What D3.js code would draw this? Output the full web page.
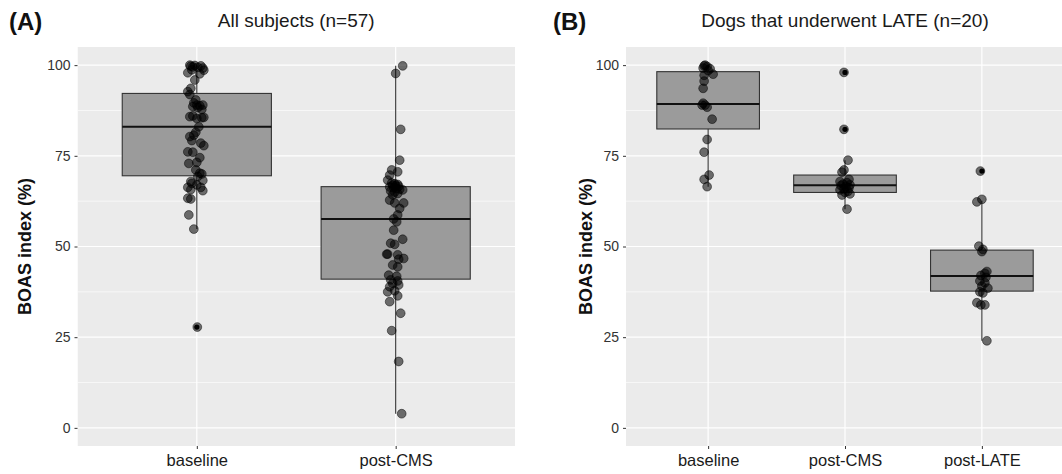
<!DOCTYPE html>
<html>
<head>
<meta charset="utf-8">
<script src="https://cdn.jsdelivr.net/npm/d3@7"></script>
<style>
  body { margin: 0; background: #fff; }
  svg { font-family: "Liberation Sans", Arial, sans-serif; }
</style>
</head>
<body>
<div id="chart"></div>
<script>
// ---- data ----
const yTicks = [0, 25, 50, 75, 100];
const yMinor = [12.5, 37.5, 62.5, 87.5];

const catsA = ["baseline", "post-CMS"];
const catsB = ["baseline", "post-CMS", "post-LATE"];

// box stats: [lowWhisker, q1, median, q3, highWhisker]
const boxA = [
  [54.8, 69.5, 83.0, 92.2, 100],
  [3.9, 41.0, 57.6, 66.5, 99.8]
];
const boxB = [
  [66.5, 82.4, 89.3, 98.2, 100],
  [60.3, 64.9, 66.9, 69.7, 73.8],
  [24.0, 37.7, 41.9, 49.0, 62.6]
];
const outA = [[27.8], []];
const outB = [[], [98.0, 82.3], [70.8]];

// jittered points: value and horizontal jitter (px offset)
const valsA_base = [99.7, 99.5, 99.8, 99.2, 98.7, 98.6, 97.9, 97.6, 99.9, 99.4, 100,
  95.9, 93.6, 92.7, 91.9, 90.4, 89.0, 88.6, 88.8, 89.0, 88.3, 89.6, 87.8,
  85.8, 86.0, 85.5, 85.6, 85.3, 83.0,
  81.5, 80.3, 80.7, 79.2, 78.5, 77.8, 76.1, 76.0, 74.5, 72.9, 73.2, 71.1, 70.2, 70.0,
  69.3, 68.2, 67.9, 67.4, 67.0, 66.3, 66.3, 65.7, 65.4, 63.3, 63.1, 58.7, 54.8, 27.8];
const jitA_base = [-6, -4, 4, 6, -5, 7, -9, 3, -2, 1, -7,
  -2, -6, -9, -7, -1, 0, -4, 3, 6, 1, -3, 5,
  -7, -4, 5, 7, 0, 2,
  -1, -7, -3, -5, 4, 7, -9, -4, 3, -8, 0, -1, 3, 5,
  1, 6, -6, -5, 0, -9, 4, -6, 6, -9, -6, -8, -3, 0.5];

const valsA_cms = [99.8, 97.7, 82.3, 73.8, 71.1, 70.6, 69.7, 68.3,
  67.5, 67.3, 67.1, 66.9, 66.8, 66.6, 66.4, 66.2, 66.0, 65.8, 65.6, 65.3, 65.0, 64.6,
  64.2, 62.8, 62.0, 62.0, 60.5, 58.7, 57.6,
  56.8, 54.5, 52.0, 50.9, 50.6, 47.9, 47.9, 47.7, 46.7, 46.5, 44.9, 44.4, 42.1, 41.8,
  40.8, 40.5, 39.8, 39.4, 38.9, 37.8, 37.5, 36.4, 34.8, 31.6, 26.8, 18.3, 3.9];
const jitA_cms = [7, 0, 5, 4, -4, 2, -6, -8,
  -4, -1, 2, -3, 0, 3, -6, -2, 1, 4, 7, -5, -1, 2,
  -3, -6, 8, -1, 4, 2, -2,
  1, -2, 7, -5, -1, -8, -9, 2, 8, 3, -3, 2, -7, 1,
  -5, 2, -3, 3, -6, -1, -8, 2, -6, 5, -4, 3, 6];

const valsB_base = [100, 99.6, 99.2, 99.0, 99.8, 98.5, 97.5, 97.2, 95.6, 93.6,
  89.5, 89.0, 89.0, 88.4, 85.1, 79.5, 76.0, 69.7, 68.5, 66.5];
const jitB_base = [-3, -1, -5, 2, -4, 0, 5, -4, -4, -5,
  -5, -6, -3, -1, 4, -1, -4, 1, -4, -1];

const valsB_cms = [98.0, 82.3, 73.8, 71.1, 70.5, 68.5,
  67.9, 67.6, 67.2, 67.0, 66.8, 66.5, 66.2, 65.9, 65.6, 65.2, 64.9, 64.5, 64.2, 60.3];
const jitB_cms = [-1, -1, 3, -1, -3, 4,
  -5, 2, -2, 5, -4, 1, 4, -1, -5, 3, 0, 5, -3, 2];

const valsB_late = [70.8, 63.0, 62.3, 50.1, 49.2, 48.6, 43.1, 42.6, 42.0, 41.5,
  40.5, 40.0, 39.1, 38.5, 37.5, 37.2, 34.5, 33.9, 33.9, 24.0];
const jitB_late = [-1.5, 0, -5, -3, 1, 0, 5, 3, -1, 4,
  -2, 3, 0, 6, -2, 1, -5, -1, 3, 5];

const ptsA = [[valsA_base, jitA_base], [valsA_cms, jitA_cms]];
const ptsB = [[valsB_base, jitB_base], [valsB_cms, jitB_cms], [valsB_late, jitB_late]];

class BoxPanel {
  constructor(svg, opts) {
    this.svg = svg;
    Object.assign(this, opts);
    this.draw();
  }

  draw() {
    this.x = d3.scalePoint().domain(this.cats).range([this.left, this.right]).padding(0.6);
    this.y = d3.scaleLinear().domain([-5, 105]).range([this.bottom, this.top]);
    const bw = this.x.step() * 0.75;

    const clipId = "clip" + this.id;
    this.svg.append("clipPath").attr("id", clipId)
      .append("rect")
        .attr("x", this.left).attr("y", this.top)
        .attr("width", this.right - this.left).attr("height", this.bottom - this.top);

    const g = this.svg.append("g").attr("clip-path", "url(#" + clipId + ")");

    g.append("rect")
      .attr("x", this.left).attr("y", this.top)
      .attr("width", this.right - this.left).attr("height", this.bottom - this.top)
      .attr("fill", "#ebebeb");

    // grid
    g.selectAll(".minor").data(yMinor).enter().append("line")
      .attr("x1", this.left).attr("x2", this.right)
      .attr("y1", d => this.y(d)).attr("y2", d => this.y(d))
      .attr("stroke", "#fff").attr("stroke-width", 0.6);
    g.selectAll(".major").data(yTicks).enter().append("line")
      .attr("x1", this.left).attr("x2", this.right)
      .attr("y1", d => this.y(d)).attr("y2", d => this.y(d))
      .attr("stroke", "#fff").attr("stroke-width", 1.2);
    g.selectAll(".vmajor").data(this.cats).enter().append("line")
      .attr("x1", d => this.x(d)).attr("x2", d => this.x(d))
      .attr("y1", this.top).attr("y2", this.bottom)
      .attr("stroke", "#fff").attr("stroke-width", 1.2);

    // boxes
    const boxes = g.selectAll(".box").data(this.box).enter().append("g");
    boxes.append("line")
      .attr("x1", (d, i) => this.x(this.cats[i])).attr("x2", (d, i) => this.x(this.cats[i]))
      .attr("y1", d => this.y(d[0])).attr("y2", d => this.y(d[4]))
      .attr("stroke", "#333").attr("stroke-width", 1.1);
    boxes.append("rect")
      .attr("x", (d, i) => this.x(this.cats[i]) - bw / 2)
      .attr("y", d => this.y(d[3]))
      .attr("width", bw)
      .attr("height", d => this.y(d[1]) - this.y(d[3]))
      .attr("fill", "#9b9b9b").attr("stroke", "#333").attr("stroke-width", 1.1);
    boxes.append("line")
      .attr("x1", (d, i) => this.x(this.cats[i]) - bw / 2)
      .attr("x2", (d, i) => this.x(this.cats[i]) + bw / 2)
      .attr("y1", d => this.y(d[2])).attr("y2", d => this.y(d[2]))
      .attr("stroke", "#111").attr("stroke-width", 2);

    // outliers (mostly hidden under the jittered points)
    this.out.forEach((vals, i) => {
      g.selectAll(null).data(vals).enter().append("circle")
        .attr("cx", this.x(this.cats[i]))
        .attr("cy", d => this.y(d))
        .attr("r", 2.6).attr("fill", "#000");
    });

    // jitter points
    this.pts.forEach((p, i) => {
      const vals = p[0], jit = p[1];
      g.selectAll(null).data(vals).enter().append("circle")
        .attr("cx", (d, j) => this.x(this.cats[i]) + jit[j])
        .attr("cy", d => this.y(d))
        .attr("r", 4.4)
        .attr("fill", "#000").attr("fill-opacity", 0.55)
        .attr("stroke", "#000").attr("stroke-opacity", 0.6).attr("stroke-width", 0.8);
    });

    this.createAxes();
  }

  createAxes() {
    const yAxis = d3.axisLeft(this.y).tickValues(yTicks).tickSize(3).tickPadding(4);
    const ya = this.svg.append("g")
      .attr("transform", "translate(" + this.left + ",0)")
      .call(yAxis);
    ya.select(".domain").remove();
    ya.selectAll("line").attr("stroke", "#333");
    ya.selectAll("text").attr("fill", "#333").style("font-size", "14px");

    const xAxis = d3.axisBottom(this.x).tickSize(3).tickPadding(5);
    const xa = this.svg.append("g")
      .attr("transform", "translate(0," + this.bottom + ")")
      .call(xAxis);
    xa.select(".domain").remove();
    xa.selectAll("line").attr("stroke", "#333");
    xa.selectAll("text").attr("fill", "#1a1a1a").style("font-size", "16.5px");

    this.svg.append("text")
      .attr("transform", "translate(" + this.labelX + "," + ((this.top + this.bottom) / 2) + ") rotate(-90)")
      .attr("text-anchor", "middle")
      .style("font-size", "18px").style("font-weight", "bold")
      .attr("fill", "#111")
      .text("BOAS index (%)");

    this.svg.append("text")
      .attr("x", (this.left + this.right) / 2).attr("y", 27)
      .attr("text-anchor", "middle")
      .style("font-size", "19px").attr("fill", "#1a1a1a")
      .text(this.title);

    this.svg.append("text")
      .attr("x", this.tagX).attr("y", 30)
      .style("font-size", "24px").style("font-weight", "bold")
      .attr("fill", "#111")
      .text(this.tag);
  }
}

const svg = d3.select("#chart").append("svg")
  .attr("width", 1062).attr("height", 474);

new BoxPanel(svg, {
  id: "A", cats: catsA, box: boxA, out: outA, pts: ptsA,
  left: 77.5, right: 515, top: 47, bottom: 446,
  labelX: 31, tagX: 9, tag: "(A)", title: "All subjects (n=57)"
});
new BoxPanel(svg, {
  id: "B", cats: catsB, box: boxB, out: outB, pts: ptsB,
  left: 626, right: 1064, top: 47, bottom: 446,
  labelX: 592, tagX: 553, tag: "(B)", title: "Dogs that underwent LATE (n=20)"
});
</script>
</body>
</html>
